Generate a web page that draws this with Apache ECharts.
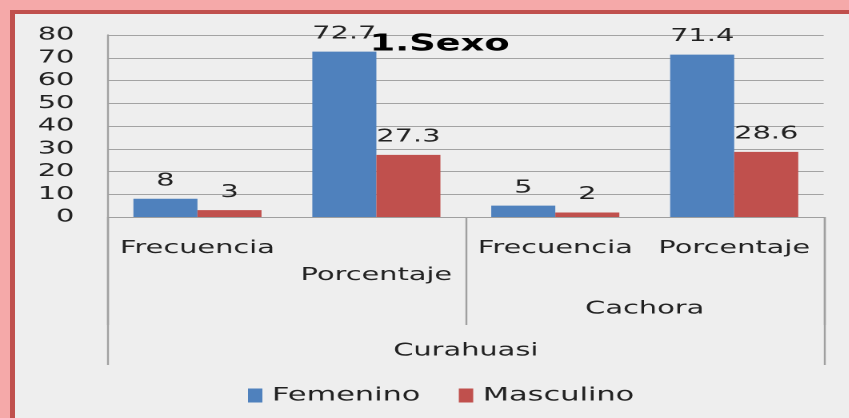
<!DOCTYPE html>
<html>
<head>
<meta charset="utf-8">
<script src="https://cdn.jsdelivr.net/npm/echarts@6/dist/echarts.min.js"></script>
<style>
  html, body { margin: 0; padding: 0; overflow: hidden; background: #eeeeee; }
  #page { position: relative; width: 849px; height: 418px; background: #f5a9a9; overflow: hidden; }
  #frame {
    position: absolute; left: 10px; top: 10px; width: 900px; height: 500px;
    background: #eeeeee;
    border-left: 5px solid #c0504d;
    border-top: 4px solid #c0504d;
  }
  /* the original picture is stretched sideways, so the chart is drawn narrow and widened */
  #sexo {
    position: absolute; left: 0; top: 0;
    width: 530.625px; height: 418px;
    transform: scaleX(1.6); transform-origin: 0 0;
  }
</style>
</head>
<body>
<div id="page">
  <div id="frame"></div>
  <div id="sexo"></div>
</div>
<script>
var categorias = ['Frecuencia', 'Porcentaje', 'Frecuencia', 'Porcentaje']
var distritos = ['', 'Cachora']
var provincia = ['Curahuasi']
var femenino = [8, 72.7, 5, 71.4]
var masculino = [3, 27.3, 2, 28.6]
var yTicks = [0, 10, 20, 30, 40, 50, 60, 70, 80]

var fuente = 'DejaVu Sans'
var gris = '#9f9f9f'

var chart = echarts.init(document.getElementById('sexo'), null, { devicePixelRatio: 2 })
chart.setOption({
  animation: false,
  textStyle: { fontFamily: fuente },
  title: {
    text: '1.Sexo',
    left: 231,
    top: 33,
    padding: 0,
    textStyle: { fontFamily: fuente, fontWeight: 'bold', fontSize: 23, color: '#000' }
  },
  legend: {
    data: ['Femenino', 'Masculino'],
    left: 155,
    top: 386,
    padding: 0,
    itemWidth: 9,
    itemHeight: 14,
    itemGap: 24,
    icon: 'rect',
    textStyle: { fontFamily: fuente, fontSize: 19, color: '#222', padding: [0, 0, 0, 1] }
  },
  grid: {
    left: 67.5,
    right: 16.2,
    top: 35,
    bottom: 201,
    containLabel: false
  },
  xAxis: [
    {
      type: 'category',
      data: categorias,
      position: 'bottom',
      axisLine: { show: true, lineStyle: { color: gris, width: 1 } },
      axisTick: { show: false },
      axisLabel: {
        interval: 0,
        margin: 18,
        verticalAlign: 'top',
        fontSize: 18,
        lineHeight: 27,
        color: '#222',
        formatter: function (v, i) {
          return i === 1 ? '\n' + v : v
        }
      }
    },
    {
      type: 'category',
      data: distritos,
      position: 'bottom',
      axisLine: { show: false },
      axisTick: { show: true, length: 108, interval: 0, lineStyle: { color: gris, width: 1.2 } },
      axisLabel: { interval: 0, margin: 83, verticalAlign: 'top', fontSize: 18, color: '#222' }
    },
    {
      type: 'category',
      data: provincia,
      position: 'bottom',
      axisLine: { show: false },
      axisTick: { show: true, length: 148, interval: 0, lineStyle: { color: gris, width: 1.2 } },
      axisLabel: { interval: 0, margin: 125, verticalAlign: 'top', fontSize: 18, color: '#222' }
    }
  ],
  yAxis: {
    type: 'value',
    min: yTicks[0],
    max: yTicks[yTicks.length - 1],
    interval: yTicks[1] - yTicks[0],
    axisLine: { show: true, lineStyle: { color: gris, width: 1.2 } },
    axisTick: { show: false },
    axisLabel: { margin: 21, fontSize: 18, color: '#222' },
    splitLine: { show: true, lineStyle: { color: '#a3a3a3', width: 1 } }
  },
  series: [
    {
      name: 'Femenino',
      type: 'bar',
      data: femenino,
      barGap: '0%',
      barCategoryGap: '28.4%',
      itemStyle: { color: '#4f81bd' },
      label: { show: true, position: 'top', distance: 9, fontSize: 18, color: '#222' }
    },
    {
      name: 'Masculino',
      type: 'bar',
      data: masculino,
      barGap: '0%',
      barCategoryGap: '28.4%',
      itemStyle: { color: '#c0504d' },
      label: { show: true, position: 'top', distance: 9, fontSize: 18, color: '#222' }
    }
  ]
})
</script>
</body>
</html>
